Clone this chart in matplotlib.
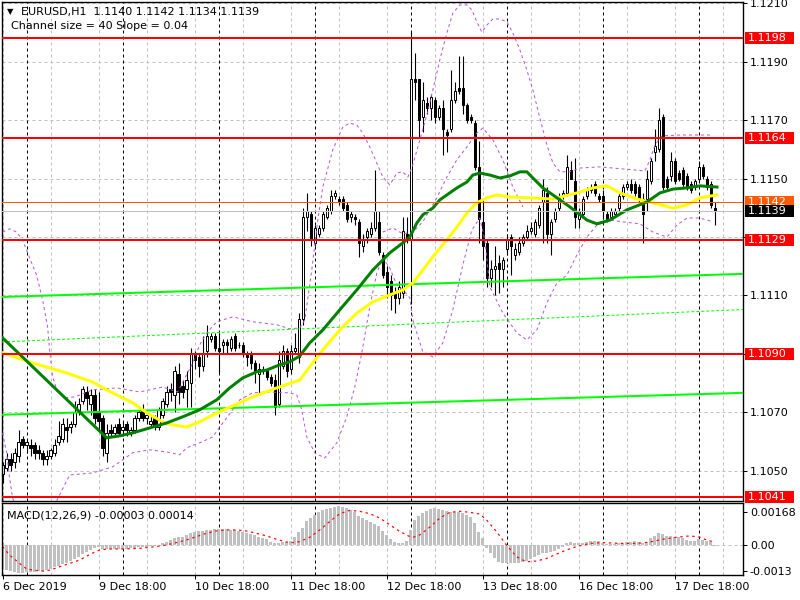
import numpy as np
import matplotlib
matplotlib.use("Agg")
import matplotlib.pyplot as plt
from matplotlib.patches import Rectangle
from matplotlib.transforms import blended_transform_factory

# ---------------- data ----------------
opens = [1.1049,1.1051,1.1054,1.1053,1.1055,1.1061,1.1059,1.1059,1.1059,1.1057,
         1.1056,1.1054,1.1055,1.1056,1.1060,1.1061,1.1065,1.1065,1.1066,1.1071,
         1.1074,1.1077,1.1073,1.1076,1.1070,1.1068,1.1056,1.1064,1.1063,1.1066,
         1.1064,1.1066,1.1063,1.1064,1.1068,1.1071,1.1068,1.1066,1.1068,1.1065,
         1.1069,1.1073,1.1078,1.1076,1.1083,1.1079,1.1078,1.1080,1.1090,1.1089,
         1.1086,1.1091,1.1095,1.1096,1.1092,1.1093,1.1094,1.1092,1.1096,1.1093,
         1.1093,1.1090,1.1090,1.1087,1.1083,1.1084,1.1084,1.1082,1.1081,1.1073,
         1.1086,1.1091,1.1085,1.1091,1.1089,1.1102,1.1137,1.1138,1.1128,1.1131,
         1.1133,1.1137,1.1139,1.1144,1.1143,1.1143,1.1141,1.1137,1.1137,1.1135,
         1.1127,1.1130,1.1131,1.1133,1.1135,1.1124,1.1118,1.1115,1.1111,1.1109,
         1.1111,1.1131,1.1129,1.1184,1.1184,1.1171,1.1176,1.1174,1.1177,1.1171,
         1.1174,1.1166,1.1167,1.1177,1.1181,1.1181,1.1175,1.1171,1.1169,1.1154,
         1.1135,1.1128,1.1116,1.1119,1.1121,1.1119,1.1126,1.1130,1.1124,1.1125,
         1.1128,1.1130,1.1132,1.1131,1.1134,1.1142,1.1145,1.1131,1.1136,1.1140,
         1.1144,1.1145,1.1153,1.1149,1.1136,1.1138,1.1144,1.1146,1.1148,1.1144,
         1.1144,1.1138,1.1137,1.1138,1.1140,1.1144,1.1147,1.1148,1.1148,1.1147,
         1.1143,1.1143,1.1149,1.1159,1.1160,1.1171,1.1150,1.1151,1.1156,1.1152,
         1.1153,1.1151,1.1148,1.1147,1.1150,1.1154,1.1150,1.1148,1.1140]
highs = [1.1053,1.1056,1.1056,1.1058,1.1064,1.1062,1.1061,1.1061,1.1060,1.1059,
         1.1057,1.1057,1.1058,1.1061,1.1067,1.1068,1.1068,1.1067,1.1074,1.1075,
         1.1079,1.1079,1.1078,1.1078,1.1077,1.1069,1.1066,1.1066,1.1066,1.1068,
         1.1067,1.1067,1.1065,1.1069,1.1071,1.1073,1.1070,1.1069,1.1069,1.1072,
         1.1075,1.1079,1.1080,1.1086,1.1087,1.1081,1.1084,1.1092,1.1091,1.1090,
         1.1096,1.1100,1.1097,1.1097,1.1097,1.1095,1.1095,1.1096,1.1097,1.1094,
         1.1094,1.1091,1.1091,1.1088,1.1087,1.1086,1.1085,1.1083,1.1083,1.1091,
         1.1093,1.1092,1.1093,1.1097,1.1104,1.1140,1.1145,1.1139,1.1134,1.1134,
         1.1139,1.1141,1.1146,1.1146,1.1144,1.1144,1.1142,1.1139,1.1138,1.1136,
         1.1131,1.1133,1.1135,1.1153,1.1139,1.1125,1.1120,1.1117,1.1113,1.1115,
         1.1137,1.1137,1.1200,1.1193,1.1184,1.1183,1.1178,1.1179,1.1178,1.1175,
         1.1177,1.1167,1.1187,1.1183,1.1192,1.1192,1.1176,1.1172,1.1170,1.1163,
         1.1143,1.1129,1.1122,1.1127,1.1124,1.1123,1.1131,1.1131,1.1128,1.1130,
         1.1131,1.1134,1.1135,1.1136,1.1141,1.1150,1.1147,1.1136,1.1140,1.1145,
         1.1146,1.1158,1.1156,1.1157,1.1140,1.1144,1.1147,1.1148,1.1149,1.1145,
         1.1146,1.1139,1.1140,1.1140,1.1145,1.1148,1.1149,1.1150,1.1149,1.1148,
         1.1145,1.1153,1.1157,1.1167,1.1174,1.1172,1.1151,1.1159,1.1157,1.1153,
         1.1154,1.1152,1.1149,1.1150,1.1156,1.1155,1.1151,1.1149,1.1142]
lows = [1.1046,1.1050,1.1050,1.1051,1.1053,1.1058,1.1056,1.1055,1.1054,1.1054,
        1.1052,1.1052,1.1054,1.1055,1.1059,1.1060,1.1060,1.1063,1.1065,1.1069,
        1.1073,1.1071,1.1069,1.1066,1.1064,1.1055,1.1053,1.1062,1.1062,1.1062,
        1.1062,1.1062,1.1062,1.1063,1.1067,1.1067,1.1066,1.1065,1.1064,1.1064,
        1.1068,1.1072,1.1074,1.1070,1.1073,1.1075,1.1072,1.1072,1.1085,1.1082,
        1.1084,1.1089,1.1094,1.1091,1.1083,1.1090,1.1090,1.1091,1.1091,1.1092,
        1.1089,1.1086,1.1085,1.1080,1.1076,1.1083,1.1081,1.1079,1.1069,1.1072,
        1.1085,1.1082,1.1083,1.1090,1.1087,1.1100,1.1132,1.1127,1.1127,1.1130,
        1.1132,1.1136,1.1138,1.1143,1.1141,1.1139,1.1135,1.1135,1.1134,1.1123,
        1.1125,1.1128,1.1130,1.1132,1.1124,1.1116,1.1109,1.1105,1.1104,1.1107,
        1.1109,1.1128,1.1107,1.1177,1.1164,1.1166,1.1172,1.1170,1.1169,1.1170,
        1.1158,1.1159,1.1166,1.1176,1.1179,1.1172,1.1169,1.1169,1.1153,1.1128,
        1.1122,1.1113,1.1113,1.1110,1.1111,1.1113,1.1124,1.1117,1.1122,1.1124,
        1.1127,1.1129,1.1131,1.1130,1.1133,1.1128,1.1128,1.1124,1.1135,1.1139,
        1.1143,1.1144,1.1150,1.1133,1.1133,1.1137,1.1143,1.1145,1.1144,1.1142,
        1.1136,1.1135,1.1136,1.1137,1.1139,1.1143,1.1146,1.1145,1.1144,1.1142,
        1.1128,1.1139,1.1148,1.1156,1.1159,1.1146,1.1146,1.1149,1.1148,1.1149,
        1.1147,1.1146,1.1145,1.1146,1.1149,1.1150,1.1146,1.1140,1.1134]
closes = [1.1052,1.1054,1.1052,1.1056,1.1060,1.1059,1.1060,1.1058,1.1056,1.1056,
          1.1054,1.1055,1.1057,1.1059,1.1062,1.1066,1.1064,1.1066,1.1070,1.1073,
          1.1078,1.1075,1.1076,1.1068,1.1067,1.1058,1.1063,1.1063,1.1065,1.1063,
          1.1065,1.1064,1.1064,1.1068,1.1070,1.1068,1.1069,1.1067,1.1065,1.1071,
          1.1074,1.1077,1.1077,1.1084,1.1077,1.1077,1.1081,1.1090,1.1088,1.1086,
          1.1090,1.1096,1.1096,1.1092,1.1091,1.1094,1.1093,1.1095,1.1092,1.1093,
          1.1090,1.1089,1.1087,1.1084,1.1085,1.1085,1.1082,1.1080,1.1072,1.1088,
          1.1091,1.1084,1.1091,1.1092,1.1102,1.1137,1.1139,1.1129,1.1133,1.1133,
          1.1138,1.1140,1.1144,1.1145,1.1142,1.1140,1.1136,1.1138,1.1136,1.1128,
          1.1129,1.1132,1.1133,1.1139,1.1125,1.1117,1.1113,1.1110,1.1109,1.1113,
          1.1132,1.1129,1.1184,1.1183,1.1170,1.1177,1.1174,1.1178,1.1171,1.1174,
          1.1167,1.1165,1.1177,1.1180,1.1180,1.1175,1.1170,1.1170,1.1154,1.1136,
          1.1127,1.1116,1.1119,1.1120,1.1119,1.1122,1.1129,1.1127,1.1126,1.1128,
          1.1130,1.1132,1.1133,1.1135,1.1140,1.1146,1.1131,1.1135,1.1139,1.1144,
          1.1145,1.1154,1.1150,1.1137,1.1139,1.1143,1.1146,1.1147,1.1145,1.1143,
          1.1139,1.1136,1.1139,1.1139,1.1144,1.1147,1.1148,1.1146,1.1145,1.1143,
          1.1138,1.1150,1.1156,1.1161,1.1170,1.1147,1.1147,1.1156,1.1149,1.1150,
          1.1148,1.1147,1.1146,1.1149,1.1154,1.1151,1.1147,1.1141,1.1139]

# MACD main (histogram), units of 1e-5
macd_hist = [-110,-124,-132,-137,-139,-139,-137,-136,-134,-132,-129,-124,-119,-110,-104,-97,
             -90,-83,-73,-59,-48,-34,-25,-17,-12,-22,-22,-22,-20,-20,-19,-19,-17,-15,-12,-10,
             -8,-7,-5,2,8,17,25,34,39,42,51,59,64,70,73,76,78,80,80,80,80,78,76,73,68,63,56,
             49,42,36,29,17,8,12,15,15,19,42,68,85,119,136,153,165,175,182,187,192,195,192,
             187,178,165,148,136,127,114,107,97,73,51,31,14,8,12,20,76,124,144,161,173,182,
             185,182,178,170,168,168,165,161,153,141,110,68,34,-17,-42,-68,-85,-93,-93,-93,
             -93,-90,-87,-81,-73,-63,-51,-42,-39,-37,-31,-22,-12,8,17,12,8,8,14,19,22,20,8,3,
             3,5,8,12,14,15,20,14,8,17,34,46,59,54,46,46,42,39,34,25,22,22,29,25,20,17,-3]
sig_bars = [0,1.75,4.25,5.9,7.6,10.1,11.75,14.25,16.75,19.25,21.75,24.25,26.75,30.1,34.25,
            38.4,40.9,43.4,45.9,48.4,50.9,53.4,55.9,58.4,60.9,63.4,65.9,68.4,70.9,72.6,74.25,
            76.75,79.25,81.75,84.25,86.75,89.25,91.75,94.25,96.75,99.25,101.75,102.6,104.25,
            106.75,109.25,111.75,114.25,116.75,119.25,120.9,123.4,125.9,128.4,130.9,133.4,
            135.9,138.4,140.9,143.4,146.75,150.1,154.25,158.4,161.75,165,168.4,171.75,174.25,
            175.9,178]
sig_vals = [-8,-51,-93,-119,-127,-132,-127,-110,-93,-76,-48,-25,-20,-20,-17,-8,0,12,25,42,
            59,71,76,76,71,59,46,29,15,12,17,39,76,119,158,175,170,158,136,102,68,42,39,51,90,
            136,165,170,165,156,127,68,0,-59,-85,-81,-68,-46,-25,-8,8,12,8,8,15,29,39,46,39,
            25,14]

# moving averages (bar, price)
ma_green_bars = [0,13,26,29.25,32.5,36.75,41,45,49.25,53.5,56.75,60,63.5,66,69.25,71.75,74.25,
                 76.75,80,84.25,88.5,92.5,96.75,100,101.75,103.5,105,107.5,109.25,111,113.5,
                 116,117.5,119.25,121.75,124.25,126.75,129.25,131,132.5,135,137.5,141.75,146,
                 148.5,151.75,156,161,164.25,167.5,171,174.25,178.5]
ma_green_vals = [1.10955,1.10784,1.10613,1.10620,1.10630,1.10647,1.10664,1.10685,1.10709,
                 1.10743,1.10784,1.10818,1.10839,1.10845,1.10863,1.10873,1.10893,1.10938,
                 1.10982,1.11051,1.11119,1.11187,1.11246,1.11280,1.11300,1.11348,1.11376,
                 1.11399,1.11427,1.11444,1.11468,1.11488,1.11512,1.11519,1.11512,1.11502,
                 1.11509,1.11523,1.11523,1.11502,1.11468,1.11444,1.11403,1.11358,1.11345,
                 1.11358,1.11393,1.11420,1.11451,1.11464,1.11468,1.11475,1.11471]
ma_yellow_bars = [0,7.5,16,22.5,26,32.5,36.75,41,46,49.25,53.5,57.5,62.5,68.5,74.25,76.75,80,
                  84.25,88.5,92.5,96.75,100,102.5,105,107.5,111,113.5,116,118.5,121,123.5,
                  126.75,131.75,137.5,143.5,147.5,151,154.25,158.5,162.5,167.5,171,174.25,178.5]
ma_yellow_vals = [1.10904,1.10869,1.10835,1.10804,1.10777,1.10733,1.10692,1.10661,1.10650,
                  1.10668,1.10698,1.10722,1.10753,1.10784,1.10811,1.10856,1.10914,1.10982,
                  1.11040,1.11078,1.11102,1.11119,1.11143,1.11187,1.11232,1.11290,1.11334,
                  1.11382,1.11417,1.11434,1.11444,1.11437,1.11434,1.11430,1.11451,1.11468,
                  1.11475,1.11451,1.11430,1.11417,1.11399,1.11410,1.11434,1.11444]

# envelope bands (bar, price)
bb_upper_bars = [0,1.75,3.5,5,6.75,8.5,10,11.25,11.75,12.5,13.75,15.5,18,22.5,28.5,34.25,40,
                 43.75,47.5,49.25,51,53.5,57.5,62.5,68.5,71.75,74.25,75.5,77.25,78.75,80,82.5,
                 85,86.75,88.5,90,91.75,93.5,95,96.75,98.5,100,101.25,102.5,104.25,106,107.5,
                 109.25,111,112.5,114.25,116,117.25,118.5,119.75,121,122.5,124.25,126,127.5,
                 129.25,131,132.5,134.25,136,137.5,139.25,141.75,144.25,149.25,155,160.5,
                 161.75,163,164.75,169.25,177.5]
bb_upper_vals = [1.11317,1.11328,1.11317,1.11290,1.11228,1.11170,1.11085,1.10992,1.10914,
                 1.10821,1.10770,1.10750,1.10753,1.10777,1.10784,1.10770,1.10787,1.10770,
                 1.10869,1.10931,1.10972,1.11010,1.11027,1.11010,1.11000,1.10986,1.10989,
                 1.11016,1.11187,1.11358,1.11471,1.11598,1.11676,1.11690,1.11683,1.11656,
                 1.11608,1.11553,1.11505,1.11478,1.11519,1.11523,1.11505,1.11547,1.11632,
                 1.11718,1.11803,1.11906,1.11998,1.12066,1.12094,1.12094,1.12077,1.12036,
                 1.12001,1.12025,1.12046,1.12046,1.12036,1.11998,1.11940,1.11871,1.11803,
                 1.11707,1.11615,1.11553,1.11523,1.11523,1.11536,1.11540,1.11533,1.11526,
                 1.11564,1.11615,1.11646,1.11649,1.11649]
bb_lower_bars = [0,1,1.75,2.5,4.25,8,11.75,14.25,16.75,22.5,27.5,32.5,36.75,41,44.25,46,49.25,
                 52.5,54.25,57.5,59.25,62.5,66,71.75,73.5,74.75,76,78,80.5,83.5,86,88,89.75,
                 91.75,93.5,95,96.75,98.5,100.5,101.75,102.5,105,107.5,110,112.5,115,117.25,
                 119.25,120.5,121.75,125,128.5,131,133.5,136,138.5,141,143.5,146,148.5,151.75,
                 155,159.25,162.5,166,168.5,171,174.25,177.5]
bb_lower_vals = [1.10630,1.10562,1.10476,1.10408,1.10332,1.10298,1.10350,1.10418,1.10486,
                 1.10493,1.10514,1.10562,1.10572,1.10565,1.10555,1.10579,1.10596,1.10616,
                 1.10650,1.10709,1.10743,1.10767,1.10770,1.10767,1.10760,1.10709,1.10616,
                 1.10562,1.10544,1.10596,1.10685,1.10787,1.10904,1.11061,1.11177,1.11228,
                 1.11194,1.11136,1.11112,1.11092,1.11016,1.10907,1.10890,1.10938,1.11051,
                 1.11205,1.11324,1.11365,1.11290,1.11129,1.11040,1.10972,1.10948,1.10982,
                 1.11075,1.11143,1.11170,1.11239,1.11300,1.11341,1.11358,1.11352,1.11345,
                 1.11317,1.11300,1.11341,1.11365,1.11365,1.11352]
bb_mid_bars = [95,97.5,100,102.5,105,106.75,108.5,111,113.5,116,118.5,120,122.5,125,127.5,130]
bb_mid_vals = [1.11317,1.11331,1.11311,1.11317,1.11352,1.11393,1.11434,1.11505,1.11564,
               1.11608,1.11656,1.11673,1.11632,1.11564,1.11471,1.11403]

# regression channel (left edge, right edge)
channel_x = [-0.15, 185.0]
channel_upper = [1.11095, 1.11174]
channel_mid = [1.10941, 1.11052]
channel_lower = [1.10692, 1.10767]

red_levels = [1.1198, 1.1164, 1.1129, 1.1090, 1.1041]
orange_level = 1.1142
last_price = 1.1139

# 1.1130 and 1.1090 labels are hidden behind the level boxes in the reference
price_ticks = [1.1050, 1.1070, 1.1090, 1.1110, 1.1130, 1.1150, 1.1170, 1.1190, 1.1210]
price_labels = ["1.1050", "1.1070", "", "1.1110", "", "1.1150", "1.1170",
                "1.1190", "1.1210"]
xtick_bars = [0, 24, 48, 72, 96, 120, 144, 168]
xtick_labels = ["6 Dec 2019", "9 Dec 18:00", "10 Dec 18:00", "11 Dec 18:00",
                "12 Dec 18:00", "13 Dec 18:00", "16 Dec 18:00", "17 Dec 18:00"]
macd_ticks = [0.00168, 0.0, -0.0013]
macd_tick_labels = ["0.00168", "0.00", "-0.0013"]

header = "EURUSD,H1  1.1140 1.1142 1.1134 1.1139"
header2 = "Channel size = 40 Slope = 0.04"
macd_title = "MACD(12,26,9) -0.00003 0.00014"

# ---------------- drawing ----------------
plt.rcParams['font.family'] = ['DejaVu Sans']
W, H = 800, 600
fig = plt.figure(figsize=(8, 6), dpi=100)
fig.patch.set_facecolor('white')

def fx(px):
    return px / W

def fy(py):
    return 1 - py / H

PX = 0.72  # one pixel in points

ax = fig.add_axes([fx(2), fy(501), (743 - 2) / W, (501 - 2) / H])
ax2 = fig.add_axes([fx(2), fy(575), (743 - 2) / W, (575 - 503) / H])

n = len(opens)
xs = np.arange(n)
XL = (channel_x[0], channel_x[1])

for a in (ax, ax2):
    a.set_xlim(*XL)
    for s in a.spines.values():
        s.set_color('black')
        s.set_linewidth(1.0)
    for b in range(0, 186, 12):
        a.axvline(b, color='#c0c0c0', lw=PX, ls=(0, (3, 3)), zorder=0)
    for b in range(6, 186, 24):
        a.axvline(b, color='black', lw=PX, ls=(0, (3, 3)), zorder=0.5)

ax.set_ylim(1.10397, 1.12104)
for p in price_ticks:
    ax.axhline(p, color='#c0c0c0', lw=PX, ls=(0, (3, 3)), zorder=0)

# candles
o = np.array(opens); h = np.array(highs); l = np.array(lows); c = np.array(closes)
ax.vlines(xs, l, h, color='black', lw=PX * 1.1, zorder=2)
up = c >= o
body_h = np.where(np.abs(c - o) < 0.00002, 0.00002, c - o)
ax.bar(xs[up], body_h[up], bottom=o[up], width=0.6, color='white', edgecolor='black',
       linewidth=PX, zorder=2.2)
ax.bar(xs[~up], body_h[~up], bottom=o[~up], width=0.6, color='black', edgecolor='black',
       linewidth=PX, zorder=2.2)

# envelopes
purple = '#b856d8'
ax.plot(bb_upper_bars, bb_upper_vals, color=purple, lw=PX, ls=(0, (3, 3)), zorder=3)
ax.plot(bb_lower_bars, bb_lower_vals, color=purple, lw=PX, ls=(0, (3, 3)), zorder=3)
ax.plot(bb_mid_bars, bb_mid_vals, color=purple, lw=PX, ls=(0, (3, 3)), zorder=3)

# channel
ax.plot(channel_x, channel_upper, color='#00ff00', lw=2 * PX, zorder=3.2, solid_capstyle='butt')
ax.plot(channel_x, channel_lower, color='#00ff00', lw=2 * PX, zorder=3.2, solid_capstyle='butt')
ax.plot(channel_x, channel_mid, color='#00ff00', lw=PX, ls=(0, (3, 2)), zorder=3.2)

# moving averages
ax.plot(ma_yellow_bars, ma_yellow_vals, color='#ffff00', lw=3 * PX, zorder=4,
        solid_joinstyle='round')
ax.plot(ma_green_bars, ma_green_vals, color='#008000', lw=3 * PX, zorder=4.1,
        solid_joinstyle='round')

# horizontal levels
for lv in red_levels:
    ax.axhline(lv, color='#ff0000', lw=2 * PX, zorder=5)
ax.axhline(orange_level, color='#ff5a00', lw=PX, zorder=5)
ax.axhline(last_price, color='#c0c0c0', lw=PX, zorder=4.9)

# right axis
ax.yaxis.tick_right()
ax.set_yticks(price_ticks)
ax.set_yticklabels(price_labels)
ax.tick_params(axis='y', direction='out', length=3, width=PX, pad=2, labelsize=8,
               colors='black')
ax.set_xticks([])

# price label boxes
tb = blended_transform_factory(fig.transFigure, ax.transData)
box_h = 12 / (499 / (1.12104 - 1.10397))

def price_box(val, face, txt_color='white'):
    r = Rectangle((fx(745), val - box_h / 2), fx(794) - fx(745), box_h, transform=tb,
                  facecolor=face, edgecolor='none', clip_on=False, zorder=10)
    fig.add_artist(r)
    fig.text(fx(748), val, f"{val:.4f}", transform=tb, color=txt_color, fontsize=8,
             ha='left', va='center', zorder=11)

for lv in red_levels:
    price_box(lv, '#ff0000')
price_box(orange_level, '#ff5a00')
price_box(last_price, 'black')

# header texts
fig.text(fx(7), fy(12), "\u25bc", fontsize=6, ha='left', va='center', color='black')
fig.text(fx(21), fy(12), header, fontsize=8, ha='left', va='center', color='black')
fig.text(fx(11), fy(26), header2, fontsize=8, ha='left', va='center', color='black')

# MACD panel
ax2.set_ylim(-0.001515, 0.00212)
ax2.axhline(0, color='#c0c0c0', lw=PX, ls=(0, (3, 3)), zorder=0.8)
ax2.bar(xs, np.array(macd_hist) * 1e-5, width=0.75, color='#c0c0c0', linewidth=0, zorder=1)
ax2.plot(sig_bars, np.array(sig_vals) * 1e-5, color='#ff0000', lw=PX * 1.2,
         ls=(0, (2, 3)), zorder=2)
ax2.yaxis.tick_right()
ax2.set_yticks(macd_ticks)
ax2.set_yticklabels(macd_tick_labels)
ax2.tick_params(axis='y', direction='out', length=3, width=PX, pad=2, labelsize=8)
ax2.set_xticks(xtick_bars)
ax2.set_xticklabels(xtick_labels, ha='left')
ax2.tick_params(axis='x', direction='out', length=3, width=PX, pad=2, labelsize=8)
fig.text(fx(7), fy(515), macd_title, fontsize=8, ha='left', va='center', color='black')

fig.savefig('out.png', dpi=100, facecolor='white')
